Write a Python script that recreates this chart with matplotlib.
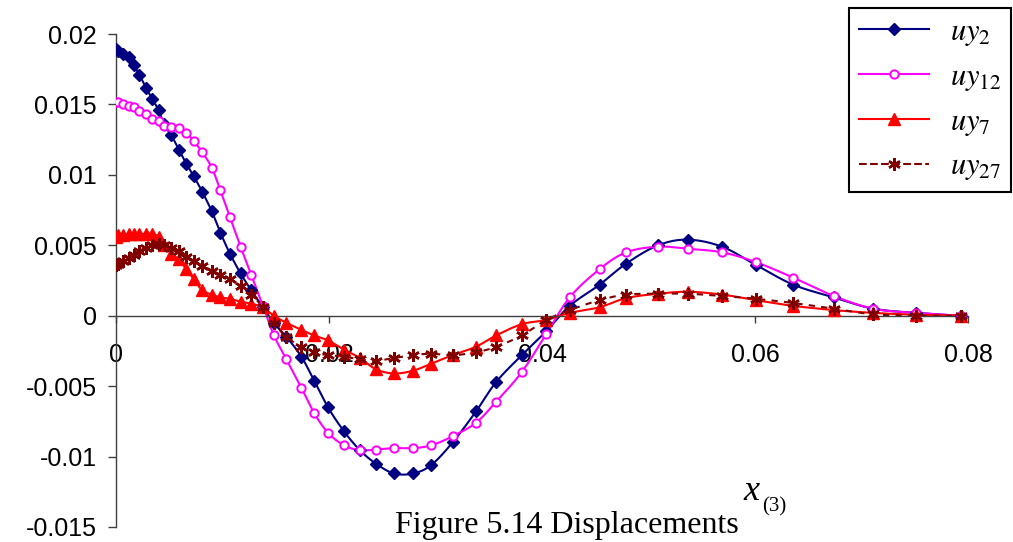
import numpy as np
import matplotlib
matplotlib.use("Agg")
import matplotlib.pyplot as plt
from matplotlib.lines import Line2D
from matplotlib.ticker import FuncFormatter

# node positions along x (shared by all four series)
x_nodes = [0, 0.0002, 0.00065, 0.0012, 0.00165, 0.0022, 0.0028, 0.0034, 0.004, 0.0045,
           0.0052, 0.0059, 0.0066, 0.0073, 0.0081, 0.009, 0.0098, 0.0107, 0.0117, 0.0127,
           0.0138, 0.0148, 0.0160, 0.0174, 0.0186, 0.0199, 0.0214, 0.0229, 0.0244, 0.0261,
           0.0279, 0.0296, 0.0316, 0.0338, 0.0357, 0.0381, 0.0404, 0.0426, 0.0454, 0.0479,
           0.0509, 0.0537, 0.0569, 0.0601, 0.0636, 0.0674, 0.0711, 0.0751, 0.0793]

uy2 = [0.0189, 0.0188, 0.0186, 0.01835, 0.0178, 0.0171, 0.0162, 0.0154, 0.0146, 0.0136,
       0.0128, 0.0118, 0.0108, 0.0099, 0.0088, 0.0074, 0.0059, 0.0044, 0.0030, 0.0018,
       0.0006, -0.0005, -0.0015, -0.0029, -0.0046, -0.0065, -0.0082, -0.00955, -0.0105, -0.0112,
       -0.0112, -0.0106, -0.0090, -0.0068, -0.0047, -0.0028, -0.0011, 0.0007, 0.0022, 0.0037,
       0.0050, 0.0054, 0.0049, 0.0036, 0.0022, 0.0013, 0.0005, 0.0002, 0.0]

uy12 = [0.0152, 0.0152, 0.0150, 0.0149, 0.0148, 0.01455, 0.0143, 0.0140, 0.0138, 0.0135,
        0.0134, 0.0133, 0.0130, 0.0124, 0.0116, 0.0105, 0.0089, 0.0070, 0.0049, 0.0029,
        0.0007, -0.00135, -0.0031, -0.0051, -0.0069, -0.0083, -0.0092, -0.00955, -0.0095, -0.0094,
        -0.0094, -0.0092, -0.00856, -0.0076, -0.0061, -0.0040, -0.0013, 0.0013, 0.0033, 0.0045,
        0.0049, 0.00475, 0.0045, 0.0038, 0.0027, 0.0014, 0.0005, 0.0002, 0.0]

uy7 = [0.0056, 0.0057, 0.0057, 0.0058, 0.0058, 0.0058, 0.0058, 0.0058, 0.0056, 0.0050,
       0.0044, 0.0040, 0.0033, 0.0026, 0.0018, 0.0015, 0.0013, 0.0012, 0.0010, 0.00085,
       0.0006, 0.0, -0.0005, -0.0010, -0.0014, -0.00175, -0.0024, -0.0030, -0.0038, -0.0041,
       -0.0039, -0.0034, -0.0028, -0.0022, -0.0014, -0.0006, -0.0003, 0.0002, 0.0006, 0.00125,
       0.00156, 0.0017, 0.0015, 0.0011, 0.0007, 0.0004, 0.0002, 0.00007, 0.0]

uy27 = [0.0036, 0.0037, 0.0039, 0.0041, 0.0043, 0.0046, 0.0048, 0.0050, 0.0051, 0.0050,
        0.0048, 0.0046, 0.0042, 0.0039, 0.0035, 0.0032, 0.0029, 0.0026, 0.0021, 0.0015,
        0.0006, -0.0005, -0.0015, -0.0022, -0.0026, -0.0028, -0.0029, -0.0031, -0.0032, -0.0030,
        -0.0028, -0.0027, -0.0028, -0.0026, -0.0022, -0.0014, -0.0003, 0.0004, 0.0011, 0.0015,
        0.00156, 0.00156, 0.0014, 0.0012, 0.0009, 0.0005, 0.0001, 0.0, 0.0]

x_ticks = [0, 0.02, 0.04, 0.06, 0.08]
y_ticks = [-0.015, -0.01, -0.005, 0, 0.005, 0.01, 0.015, 0.02]

plt.rcParams['font.family'] = ['Liberation Sans', 'DejaVu Sans']
plt.rcParams['mathtext.fontset'] = 'stix'


def smooth(x, y, n=12):
    # Catmull-Rom curve through the nodes, like Excel's "smoothed line"
    P = np.column_stack([x, y])
    P = np.vstack([P[0], P, P[-1]])
    t = np.linspace(0, 1, n, endpoint=False)[:, None]
    out = []
    for i in range(1, len(P) - 2):
        p0, p1, p2, p3 = P[i - 1], P[i], P[i + 1], P[i + 2]
        out.append(0.5 * (2 * p1 + (-p0 + p2) * t + (2 * p0 - 5 * p1 + 4 * p2 - p3) * t ** 2
                          + (-p0 + 3 * p1 - 3 * p2 + p3) * t ** 3))
    out.append(P[-2][None])
    c = np.vstack(out)
    return c[:, 0], c[:, 1]


W, H = 1013, 542
fig = plt.figure(figsize=(W / 100, H / 100), dpi=100)
ax = fig.add_axes([116 / W, 1 - 527 / H, (968 - 116) / W, (527 - 34) / H])

series = [
    (uy2, '#000080', dict(marker='D', ms=6.3, mfc='#000080', mec='#000080'), '-', r'$uy_{2}$'),
    (uy12, '#FF00FF', dict(marker='o', ms=6, mfc='white', mec='#FF00FF', mew=1.4), '-', r'$uy_{12}$'),
    (uy7, '#FF0000', dict(marker='^', ms=8, mfc='#FF0000', mec='#FF0000'), '-', r'$uy_{7}$'),
    (uy27, '#800000', dict(marker=(6, 2, 0), ms=9, mfc='#800000', mec='#800000', mew=1.8), '--', r'$uy_{27}$'),
]

handles = []
for y, col, mk, ls, lab in series:
    sx, sy = smooth(np.array(x_nodes), np.array(y))
    ax.plot(sx, sy, color=col, lw=1.5, ls=ls, dashes=(3, 3) if ls == '--' else (None, None), zorder=2)
    ax.plot(x_nodes, y, ls='none', zorder=3, **mk)
    handles.append(Line2D([0], [0], color=col, lw=1.5, ls=ls, label=lab, **mk))

ax.set_xlim(0, 0.08)
ax.set_ylim(-0.015, 0.02)
ax.set_xticks(x_ticks)
ax.set_yticks(y_ticks)
fmt = FuncFormatter(lambda v, p: '%g' % round(v, 4))
ax.xaxis.set_major_formatter(fmt)
ax.yaxis.set_major_formatter(fmt)

for s in ['top', 'right']:
    ax.spines[s].set_visible(False)
ax.spines['bottom'].set_position(('data', 0))
ax.spines['left'].set_color('#404040')
ax.spines['bottom'].set_color('#404040')
ax.spines['left'].set_linewidth(1.0)
ax.spines['bottom'].set_linewidth(1.0)
ax.tick_params(axis='y', direction='out', length=6, width=1, color='#404040', labelsize=18, pad=8)
ax.tick_params(axis='x', direction='out', length=5, width=1, color='#404040', labelsize=18, pad=15)
ax.patch.set_visible(False)

leg = fig.legend(handles=handles, loc='upper right', bbox_to_anchor=(1011 / W, 1 - 8 / H),
                 frameon=True, fancybox=False, edgecolor='black', fontsize=22,
                 handlelength=2.3, handletextpad=0.7, labelspacing=0.45, borderpad=0.3,
                 borderaxespad=0, framealpha=1)
leg.get_frame().set_linewidth(1.5)

# caption underneath
fig.text(395 / W, 1 - 533 / H, 'Figure 5.14 Displacements', fontsize=23,
         family='Liberation Serif', ha='left', va='baseline')
fig.text(743 / W, 1 - 500 / H, 'x', fontsize=26, family='Liberation Serif', style='italic',
         ha='left', va='baseline')
fig.text(762 / W, 1 - 511 / H, '(3)', fontsize=15, family='Liberation Serif',
         ha='left', va='baseline')

fig.savefig('out.png', dpi=100)
